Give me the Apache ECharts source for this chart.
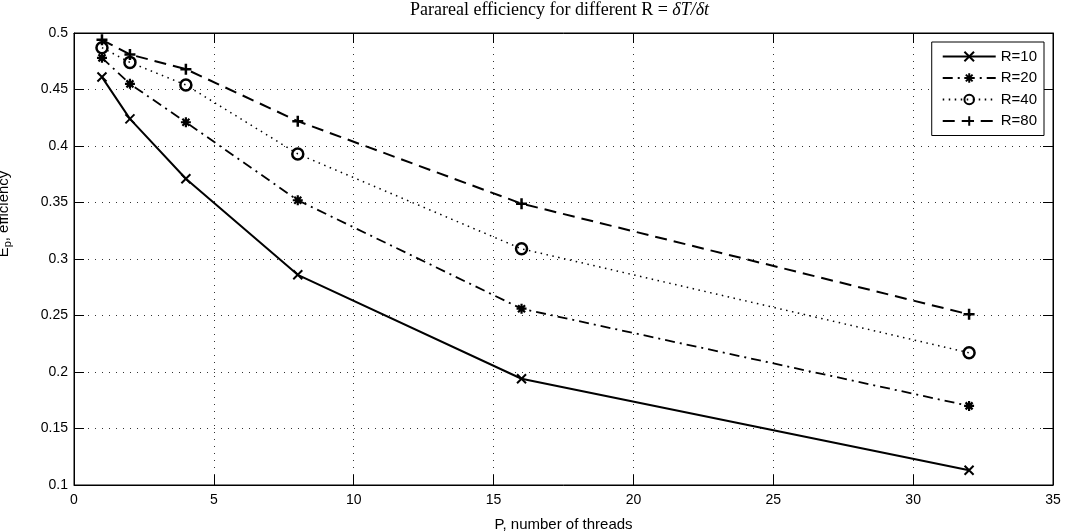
<!DOCTYPE html>
<html><head><meta charset="utf-8">
<script src="https://cdn.jsdelivr.net/npm/echarts@6/dist/echarts.min.js"></script>
<style>html,body{margin:0;padding:0;background:#fff}#c{width:1067px;height:532px}</style>
</head><body><div id="c"></div>
<script>
const threads = [1, 2, 4, 8, 16, 32];
const r10 = [0.461, 0.424, 0.371, 0.286, 0.194, 0.113];
const r20 = [0.478, 0.455, 0.421, 0.352, 0.256, 0.170];
const r40 = [0.487, 0.474, 0.454, 0.393, 0.309, 0.217];
const r80 = [0.494, 0.481, 0.468, 0.422, 0.349, 0.251];
const seriesNames = ['R=10', 'R=20', 'R=40', 'R=80'];
const titleText = 'Parareal efficiency for different R = ';
const titleMath = 'δT/δt';
const xName = 'P, number of threads';

const sans = 'Liberation Sans';
const pair = (arr) => threads.map((t, i) => [t, arr[i]]);

const symCross = 'path://M0,0L10,10M10,0L0,10';
const symPlus = 'path://M5,0L5,10M0,5L10,5';
const symStar = 'path://M5,0L5,10M0,5L10,5M1.5,1.5L8.5,8.5M8.5,1.5L1.5,8.5';

function mk(name, data, lineType, width, symbol, size, bw) {
  return {
    name, type: 'line', data: pair(data),
    symbol, symbolSize: size, showSymbol: true,
    lineStyle: { color: '#000', width, type: lineType },
    itemStyle: { color: 'rgba(0,0,0,0)', borderColor: '#000', borderWidth: bw },
    emphasis: { disabled: true },
    z: 3
  };
}

const chart = echarts.init(document.getElementById('c'), null, { renderer: 'canvas' });
const gridLine = { show: true, lineStyle: { color: '#333', width: 1, type: [1, 6] } };
chart.setOption({
  animation: false,
  backgroundColor: '#fff',
  title: {
    left: 410, top: 1, padding: 0,
    text: '{n|' + titleText + '}{i|' + titleMath + '}',
    textStyle: {
      fontWeight: 'normal',
      rich: {
        n: { fontFamily: 'Liberation Serif', fontSize: 18, fontWeight: 'normal', color: '#000' },
        i: { fontFamily: 'Liberation Serif', fontSize: 18, fontWeight: 'normal', fontStyle: 'italic', color: '#000' }
      }
    }
  },
  grid: { left: 74, right: 14, top: 33, bottom: 47, show: true, borderColor: '#000', borderWidth: 1,
    backgroundColor: '#fff', containLabel: false, outerBoundsMode: 'none' },
  legend: {
    orient: 'vertical', right: 23, top: 42,
    backgroundColor: '#fff', borderColor: '#000', borderWidth: 1, borderRadius: 0,
    padding: [7, 7, 7, 10], itemWidth: 53, itemHeight: 12, itemGap: 6.5,
    textStyle: { fontFamily: sans, fontSize: 15, color: '#000', lineHeight: 14 },
    data: seriesNames
  },
  xAxis: [{
    type: 'value', min: 0, max: 35, interval: 5,
    name: xName, nameLocation: 'middle', nameGap: 32,
    nameTextStyle: { fontFamily: sans, fontSize: 15, color: '#000' },
    axisLine: { show: true, onZero: false, lineStyle: { color: '#000', width: 1 } },
    axisTick: { show: true, inside: true, length: 10, lineStyle: { color: '#000' } },
    axisLabel: { fontFamily: sans, fontSize: 14, color: '#000', margin: 8 },
    splitLine: gridLine
  }, {
    type: 'value', min: 0, max: 35, interval: 5, position: 'top',
    axisLine: { show: true, onZero: false, lineStyle: { color: '#000' } },
    axisTick: { show: true, inside: true, length: 10, lineStyle: { color: '#000' } },
    axisLabel: { show: false }, splitLine: { show: false }
  }],
  yAxis: [{
    type: 'value', min: 0.1, max: 0.5, interval: 0.05,
    name: '{e|E}{p|p}{e|, efficiency}', nameLocation: 'middle', nameGap: 61,
    nameTextStyle: { padding: [0, 0, 0, 90], rich: {
      e: { fontFamily: sans, fontSize: 15, color: '#000' },
      p: { fontFamily: sans, fontSize: 11, color: '#000', padding: [8, 0, 0, 0] }
    } },
    axisLine: { show: true, onZero: false, lineStyle: { color: '#000', width: 1 } },
    axisTick: { show: true, inside: true, length: 10, lineStyle: { color: '#000' } },
    axisLabel: { fontFamily: sans, fontSize: 14, color: '#000', margin: 6,
      formatter: (v) => String(+v.toFixed(2)) },
    splitLine: gridLine
  }, {
    type: 'value', min: 0.1, max: 0.5, interval: 0.05, position: 'right',
    axisLine: { show: true, onZero: false, lineStyle: { color: '#000' } },
    axisTick: { show: true, inside: true, length: 10, lineStyle: { color: '#000' } },
    axisLabel: { show: false }, splitLine: { show: false }
  }],
  series: [
    mk('R=10', r10, 'solid', 2, symCross, 9, 2),
    mk('R=20', r20, [10, 5, 2, 5], 1.8, symStar, 10, 2.2),
    mk('R=40', r40, [1.5, 4.5], 1.5, 'circle', 11, 2.5),
    mk('R=80', r80, [12, 7], 2, symPlus, 11, 2.5)
  ]
});
</script></body></html>
